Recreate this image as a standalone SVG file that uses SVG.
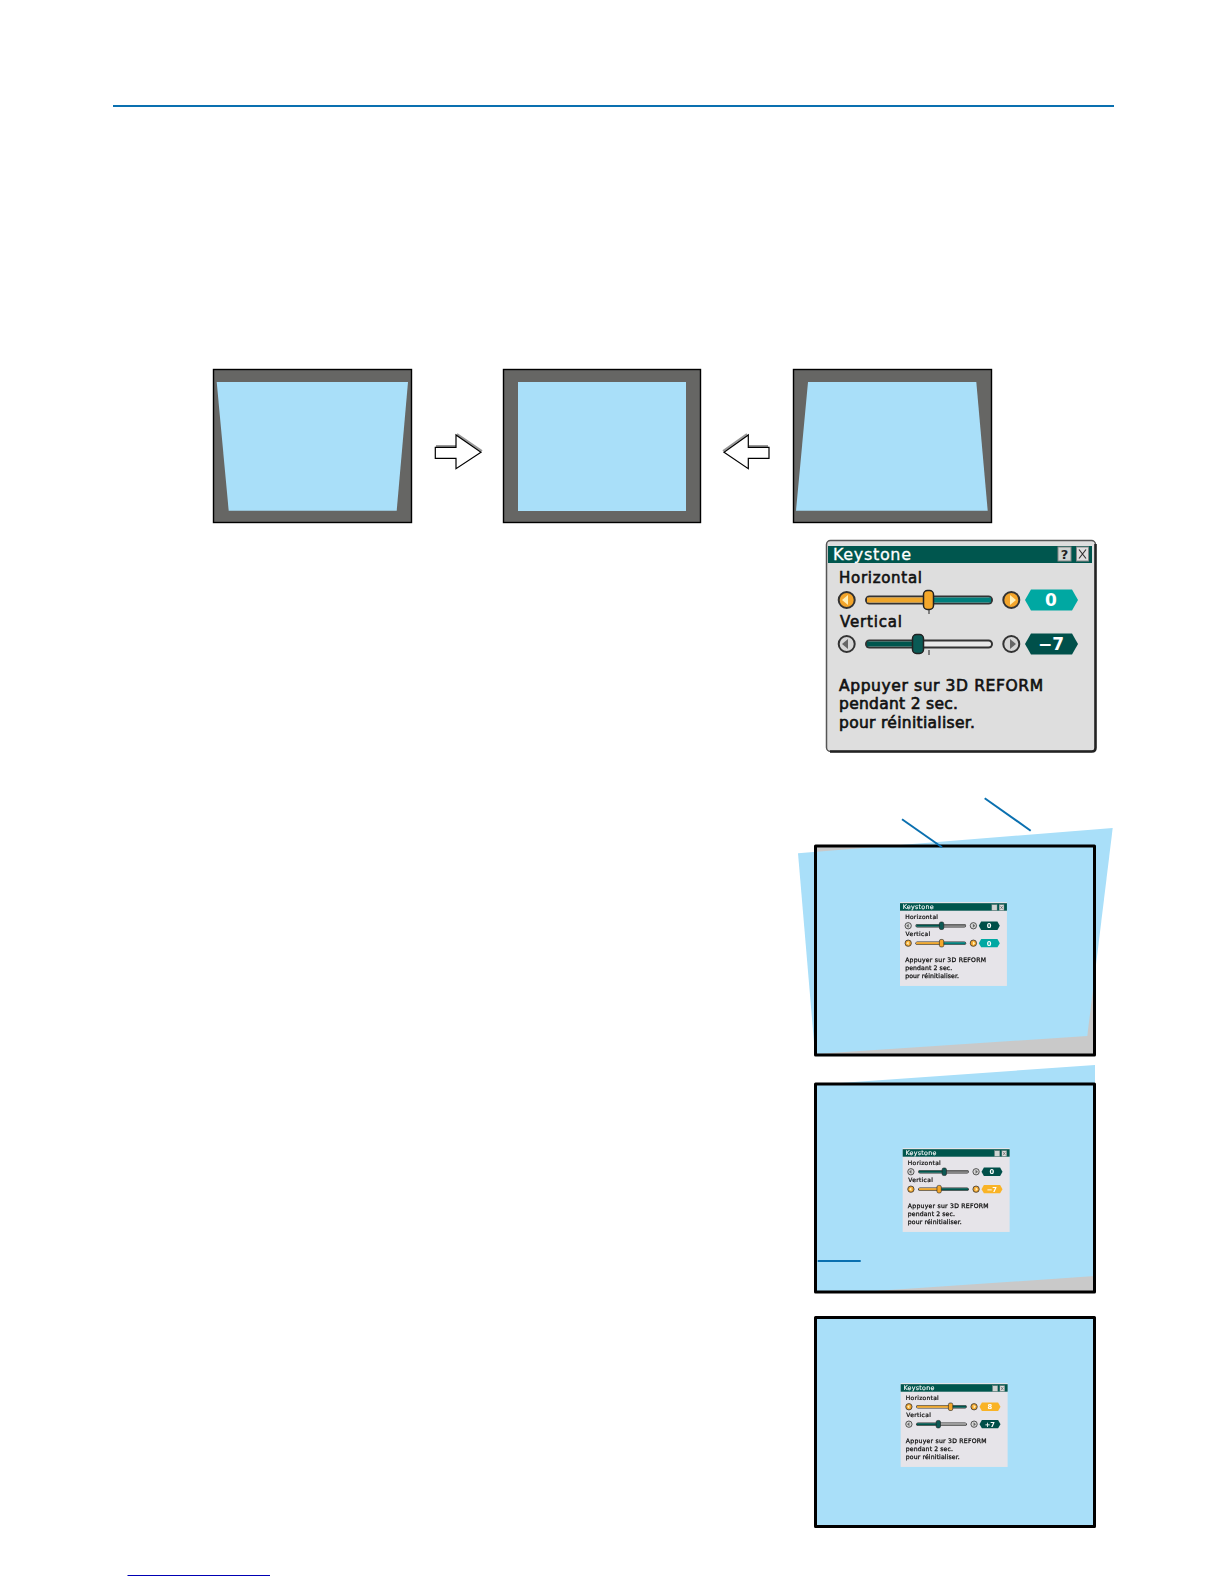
<svg xmlns="http://www.w3.org/2000/svg" xmlns:xlink="http://www.w3.org/1999/xlink" width="1224" height="1584" viewBox="0 0 1224 1584">
<style>
.scr{fill:#666664;stroke:#000;stroke-width:1.4}
.sky{fill:#a9dff9}
.frame{fill:none;stroke:#000;stroke-width:3;stroke-linejoin:round}
.wedge{fill:#c9c9c9}
.rule{stroke:#0a70b0;fill:none}
.t{font-family:"DejaVu Sans",sans-serif;font-size:15px;fill:#111;stroke:#111;stroke-width:.6}
.b{font-family:"DejaVu Sans",sans-serif;font-size:15.500px;fill:#111;stroke:#111;stroke-width:.65}
.ti{font-family:"DejaVu Sans",sans-serif;font-size:16px;fill:#fff;stroke:#fff;stroke-width:.3}
.v{font-family:"DejaVu Sans",sans-serif;font-size:17px;font-weight:700;fill:#fff;text-anchor:middle}
.bar{fill:#00564e}
.org{fill:#eea62c}
.tl{fill:#007f7c}
.dk{fill:#00564e}
.lg{fill:#e9e9e9}
.kOn{fill:#f4a72a;stroke:#222;stroke-width:1.5}
.kOff{fill:#0a5a55;stroke:#222;stroke-width:1.5}
.hxT{fill:#00a8a2}
.hxD{fill:#00504a}
.hxO{fill:#f9b327}
.arrow{fill:#fff;stroke:#000;stroke-width:1.2}
.ash{fill:none;stroke:#999;stroke-width:2}
.blur{filter:url(#soft)}
</style>
<defs>
<filter id="soft" x="-5%" y="-5%" width="110%" height="110%"><feGaussianBlur stdDeviation="0.3"/></filter>
<g id="track"><rect x="39" y="-4.500" width="128" height="9" rx="4.500" fill="#333"/><rect x="41" y="-2.500" width="124" height="5" rx="2.500" class="lg"/></g>
<polygon id="hex" points="199,0 205,-10.500 246,-10.500 252,0 246,10.500 205,10.500"/>
<g id="bOnL"><circle cx="20.700" r="8" fill="#f3a52b" stroke="#333" stroke-width="2"/><polygon points="16,0 22,-5 22,5" fill="#fff0b8"/></g>
<g id="bOnR"><circle cx="185.300" r="8" fill="#f3a52b" stroke="#333" stroke-width="2"/><polygon points="190,0 184,-5 184,5" fill="#fff0b8"/></g>
<g id="bOffL"><circle cx="20.700" r="8" fill="#d6d6d6" stroke="#333" stroke-width="2"/><polygon points="16,0 22,-5 22,5" fill="#666"/></g>
<g id="bOffR"><circle cx="185.300" r="8" fill="#d6d6d6" stroke="#333" stroke-width="2"/><polygon points="190,0 184,-5 184,5" fill="#666"/></g>
<g id="btns"><rect x="232" y="7" width="13" height="14" fill="#cfd4d2" stroke="#888"/><rect x="250.500" y="7" width="12" height="14" fill="#dfdfdf" stroke="#888"/><path d="M253 9.500l7 9m0-9l-7 9" stroke="#333" stroke-width="1.200" fill="none"/></g>
</defs>

<g id="top-rule"><path class="rule" stroke-width="2" d="M113 106H1114"/></g>

<g id="screen-left">
<rect class="scr" x="213.500" y="369.500" width="198" height="153"/>
<polygon class="sky" points="216.700,382 408,382 396.700,510.700 228.700,510.700"/>
</g>
<g id="screen-center">
<rect class="scr" x="503.500" y="369.500" width="197" height="153"/>
<rect class="sky" x="518" y="382" width="168" height="129"/>
</g>
<g id="screen-right">
<rect class="scr" x="793.500" y="369.500" width="198" height="153"/>
<polygon class="sky" points="808,382 976.300,382 987.700,510.700 796,510.700"/>
</g>

<g id="connectors">
<g id="arrow-right">
<path class="ash" d="M436 446H456M457 434L482 451"/>
<polygon class="arrow" points="435.300,447.300 456,447.300 456,435 481,452.300 456,468.700 456,458.300 435.300,458.300"/>
</g>
<g id="arrow-left">
<path class="ash" d="M723 451L747 434M749 446H768"/>
<polygon class="arrow" points="724,452.300 748.300,435 748.300,447.300 769,447.300 769,458.300 748.300,458.300 748.300,468.700"/>
</g>
</g>

<g id="keystone-large" transform="translate(826,540)">
<rect x="0.500" y="0.500" width="269" height="211" rx="4" fill="#dedede" stroke="#555" stroke-width="1.500"/>
<path d="M269.500 4V208Q269.500 211.500 266 211.500H4" fill="none" stroke="#222" stroke-width="2.500"/>
<rect class="bar" x="2" y="6" width="264" height="17"/>
<text class="ti" x="7" y="20" textLength="78" lengthAdjust="spacing">Keystone</text>
<use href="#btns"/>
<text x="238.500" y="19" font-family="DejaVu Sans, sans-serif" font-size="13" font-weight="700" text-anchor="middle" fill="#222">?</text>
<text class="t" x="13" y="43" textLength="83" lengthAdjust="spacing">Horizontal</text>
<g transform="translate(0,60)">
<use href="#track"/><rect class="org" x="41" y="-2.500" width="60" height="5"/><rect class="tl" x="101" y="-2.500" width="64" height="5"/>
<path d="M103 9v5" stroke="#222"/>
<rect class="kOn" x="97.500" y="-9.500" width="10" height="19" rx="4"/>
<use href="#bOnL"/><use href="#bOnR"/>
<use href="#hex" class="hxT"/><text class="v" x="225" y="6">0</text>
</g>
<text class="t" x="14" y="87" textLength="62" lengthAdjust="spacing">Vertical</text>
<g transform="translate(0,104)">
<use href="#track"/><rect class="dk" x="41" y="-2.500" width="50" height="5"/>
<path d="M103 6v5" stroke="#222"/>
<rect class="kOff" x="86.500" y="-9.500" width="11" height="19" rx="4"/>
<use href="#bOffL"/><use href="#bOffR"/>
<use href="#hex" class="hxD"/><text class="v" x="225" y="6">−7</text>
</g>
<text class="b" x="13" y="151" textLength="204" lengthAdjust="spacing">Appuyer sur 3D REFORM</text>
<text class="b" x="13" y="169" textLength="119" lengthAdjust="spacing">pendant 2 sec.</text>
<text class="b" x="13" y="187.500" textLength="136" lengthAdjust="spacing">pour réinitialiser.</text>
</g>

<g id="screen-a">
<rect class="wedge" x="815" y="845" width="280" height="210"/>
<polygon class="sky" points="798,853.300 1112.700,828 1087.300,1036 815,1054"/>
<rect class="frame" x="815.500" y="846" width="279" height="209"/>
</g>
<g id="leader-lines">
<path class="rule" stroke-width="2" d="M902 819.300L942 847.300"/>
<path class="rule" stroke-width="2" d="M984.700 798.300L1030.700 830.700"/>
</g>
<g id="keystone-a" class="blur" transform="translate(900,902) scale(.396)">
<rect width="270" height="212" fill="#e6e4e9"/>
<rect class="bar" x="0" y="3" width="270" height="19"/>
<text class="ti" x="7" y="18.500" textLength="78" lengthAdjust="spacing">Keystone</text>
<use href="#btns"/>
<text class="t" x="13" y="43" textLength="83" lengthAdjust="spacing">Horizontal</text>
<g transform="translate(0,60)">
<use href="#track"/><rect class="dk" x="41" y="-2.500" width="62" height="5"/><rect x="103" y="-2.500" width="62" height="5" fill="#777"/>
<rect class="kOff" x="99.500" y="-9.500" width="11" height="19" rx="4"/>
<use href="#bOffL"/><use href="#bOffR"/>
<use href="#hex" class="hxD"/><text class="v" x="225" y="6">0</text>
</g>
<text class="t" x="14" y="87" textLength="62" lengthAdjust="spacing">Vertical</text>
<g transform="translate(0,104)">
<use href="#track"/><rect class="org" x="41" y="-2.500" width="62" height="5"/><rect class="tl" x="103" y="-2.500" width="62" height="5"/>
<rect class="kOn" x="99.500" y="-9.500" width="11" height="19" rx="4"/>
<use href="#bOnL"/><use href="#bOnR"/>
<use href="#hex" class="hxT"/><text class="v" x="225" y="6">0</text>
</g>
<text class="b" x="13" y="152" textLength="204" lengthAdjust="spacing">Appuyer sur 3D REFORM</text>
<text class="b" x="13" y="172" textLength="119" lengthAdjust="spacing">pendant 2 sec.</text>
<text class="b" x="13" y="192" textLength="136" lengthAdjust="spacing">pour réinitialiser.</text>
</g>

<g id="screen-b">
<rect class="wedge" x="815" y="1083" width="280" height="209"/>
<polygon class="sky" points="840,1083 1095,1065 1095,1276 860,1292 815,1292 815,1083"/>
<rect class="frame" x="815.500" y="1084" width="279" height="208"/>
<path class="rule" stroke-width="2" d="M817.700 1261H860.700"/>
</g>
<g id="keystone-b" class="blur" transform="translate(902.700,1148) scale(.396)">
<rect width="270" height="212" fill="#e6e4e9"/>
<rect class="bar" x="0" y="3" width="270" height="19"/>
<text class="ti" x="7" y="18.500" textLength="78" lengthAdjust="spacing">Keystone</text>
<use href="#btns"/>
<text class="t" x="13" y="43" textLength="83" lengthAdjust="spacing">Horizontal</text>
<g transform="translate(0,60)">
<use href="#track"/><rect class="dk" x="41" y="-2.500" width="62" height="5"/><rect x="103" y="-2.500" width="62" height="5" fill="#777"/>
<rect class="kOff" x="99.500" y="-9.500" width="11" height="19" rx="4"/>
<use href="#bOffL"/><use href="#bOffR"/>
<use href="#hex" class="hxD"/><text class="v" x="225" y="6">0</text>
</g>
<text class="t" x="14" y="87" textLength="62" lengthAdjust="spacing">Vertical</text>
<g transform="translate(0,104)">
<use href="#track"/><rect class="org" x="41" y="-2.500" width="50" height="5"/><rect class="dk" x="91" y="-2.500" width="74" height="5"/>
<rect class="kOn" x="86.500" y="-9.500" width="11" height="19" rx="4"/>
<use href="#bOnL"/><use href="#bOnR"/>
<use href="#hex" class="hxO"/><text class="v" x="225" y="6">−7</text>
</g>
<text class="b" x="13" y="152" textLength="204" lengthAdjust="spacing">Appuyer sur 3D REFORM</text>
<text class="b" x="13" y="172" textLength="119" lengthAdjust="spacing">pendant 2 sec.</text>
<text class="b" x="13" y="192" textLength="136" lengthAdjust="spacing">pour réinitialiser.</text>
</g>

<g id="screen-c">
<rect class="sky" x="815" y="1317" width="280" height="209"/>
<rect class="frame" x="815.500" y="1317.500" width="279" height="209"/>
</g>
<g id="keystone-c" class="blur" transform="translate(900.700,1383) scale(.396)">
<rect width="270" height="212" fill="#e6e4e9"/>
<rect class="bar" x="0" y="3" width="270" height="19"/>
<text class="ti" x="7" y="18.500" textLength="78" lengthAdjust="spacing">Keystone</text>
<use href="#btns"/>
<text class="t" x="13" y="43" textLength="83" lengthAdjust="spacing">Horizontal</text>
<g transform="translate(0,60)">
<use href="#track"/><rect class="org" x="41" y="-2.500" width="85" height="5"/><rect class="dk" x="126" y="-2.500" width="39" height="5"/>
<rect class="kOn" x="120.500" y="-9.500" width="11" height="19" rx="4"/>
<use href="#bOnL"/><use href="#bOnR"/>
<use href="#hex" class="hxO"/><text class="v" x="225" y="6">8</text>
</g>
<text class="t" x="14" y="87" textLength="62" lengthAdjust="spacing">Vertical</text>
<g transform="translate(0,104)">
<use href="#track"/><rect class="dk" x="41" y="-2.500" width="54" height="5"/><rect x="95" y="-2.500" width="70" height="5" fill="#999"/>
<rect class="kOff" x="89.500" y="-9.500" width="11" height="19" rx="4"/>
<use href="#bOffL"/><use href="#bOffR"/>
<use href="#hex" class="hxD"/><text class="v" x="225" y="6">+7</text>
</g>
<text class="b" x="13" y="152" textLength="204" lengthAdjust="spacing">Appuyer sur 3D REFORM</text>
<text class="b" x="13" y="172" textLength="119" lengthAdjust="spacing">pendant 2 sec.</text>
<text class="b" x="13" y="192" textLength="136" lengthAdjust="spacing">pour réinitialiser.</text>
</g>

<g id="bottom-rule"><path stroke="#0000b4" fill="none" stroke-width="1" d="M127.500 1575.500H270"/></g>
</svg>
